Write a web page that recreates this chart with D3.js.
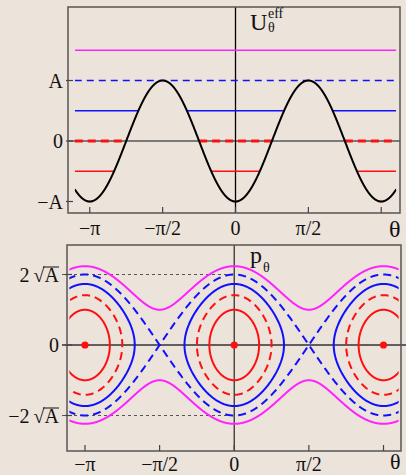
<!DOCTYPE html>
<html>
<head>
<meta charset="utf-8">
<script src="https://cdn.jsdelivr.net/npm/d3@7"></script>
<style>
  html, body { margin: 0; padding: 0; background: #ece3db; }
  svg { display: block; }
  text { font-family: "Liberation Serif", "Times New Roman", serif; fill: #111; }
</style>
</head>
<body>
<svg id="chart" width="406" height="475"></svg>
<script>
// Pendulum-like potential U(θ) = −A cos 2θ and its phase portrait.
const A = 1;
const thetaTicks = [-Math.PI, -Math.PI / 2, 0, Math.PI / 2, Math.PI];
const thetaTickLabels = ["−π", "−π/2", "0", "π/2", ""];   // the axis name sits where "π" would go
const uTicks = [A, 0, -A];
const uTickLabels = ["A", "0", "−A"];
const pTicks = [2 * Math.sqrt(A), 0, -2 * Math.sqrt(A)];
const pTickPrefix = ["2\u2009", "0", "−2\u2009"];      // labels "2 √A", "0", "−2 √A"
const pTickHasRoot = [true, false, true];

// Energy levels (units of A), their colours and dash styles
const energies = [1.5, 1, 0.5, 0, -0.5];
const energyColors = ["#ff22ff", "#1010ff", "#1010ff", "#ff1010", "#ff1010"];
const energyDashed = [false, true, false, true, false];

// Stable equilibria (potential minima)
const minima = [-Math.PI, 0, Math.PI];
const thetaSpan = [-3.465, 3.465];

const U = th => -A * Math.cos(2 * th);

const svg = d3.select("#chart");

// ---------------- upper panel: effective potential ----------------
const fTop = { left: 68, right: 400, top: 7, bottom: 213 };
const xT = d3.scaleLinear().domain([-3.611, 3.546]).range([fTop.left, fTop.right]);
const yT = d3.scaleLinear().domain([-1.19, 2.215]).range([fTop.bottom, fTop.top]);

svg.append("clipPath").attr("id", "clipTop").append("rect")
  .attr("x", xT(thetaSpan[0])).attr("y", fTop.top)
  .attr("width", xT(thetaSpan[1]) - xT(thetaSpan[0])).attr("height", fTop.bottom - fTop.top);

const gTop = svg.append("g");
// zero line and θ = 0 axis
gTop.append("line").attr("x1", fTop.left).attr("x2", fTop.right)
  .attr("y1", yT(0)).attr("y2", yT(0)).attr("stroke", "#7a7a7a").attr("stroke-width", 2);
gTop.append("line").attr("x1", xT(0)).attr("x2", xT(0))
  .attr("y1", fTop.top).attr("y2", fTop.bottom).attr("stroke", "#000").attr("stroke-width", 1.3);

const thetaSamples = d3.range(thetaSpan[0], thetaSpan[1] + 1e-9, 0.002);

// energy levels: drawn only where the motion is allowed (U ≤ E)
const gLevels = gTop.append("g").attr("clip-path", "url(#clipTop)");
energies.forEach((E, i) => {
  const isZero = E === 0;
  const line = d3.line()
    .defined(th => U(th) <= E * A + 1e-9)
    .x(th => xT(th)).y(() => yT(E * A));
  gLevels.append("path").attr("d", line(thetaSamples))
    .attr("fill", "none").attr("stroke", energyColors[i])
    .attr("stroke-width", isZero ? 3 : 1.4)
    .attr("stroke-dasharray", energyDashed[i] ? (isZero ? "8,5" : "7,5") : null);
});
// lowest level: the minima themselves
minima.forEach(m => {
  gLevels.append("line").attr("x1", xT(m) - 3).attr("x2", xT(m) + 3)
    .attr("y1", yT(-A)).attr("y2", yT(-A)).attr("stroke", "#ff1010").attr("stroke-width", 1.6);
});

// potential curve
gTop.append("path").attr("clip-path", "url(#clipTop)")
  .attr("d", d3.line().x(th => xT(th)).y(th => yT(U(th)))(thetaSamples))
  .attr("fill", "none").attr("stroke", "#000").attr("stroke-width", 2);

// frame, ticks and labels
gTop.append("rect").attr("x", fTop.left).attr("y", fTop.top)
  .attr("width", fTop.right - fTop.left).attr("height", fTop.bottom - fTop.top)
  .attr("fill", "none").attr("stroke", "#555").attr("stroke-width", 1.5);
thetaTicks.forEach((t, i) => {
  gTop.append("line").attr("x1", xT(t)).attr("x2", xT(t))
    .attr("y1", fTop.bottom).attr("y2", fTop.bottom - 6).attr("stroke", "#444").attr("stroke-width", 1.2);
  if (thetaTickLabels[i]) {
    gTop.append("text").attr("x", xT(t)).attr("y", 235).attr("text-anchor", "middle")
      .attr("font-size", 20).text(thetaTickLabels[i]);
  }
});
uTicks.forEach((v, i) => {
  gTop.append("line").attr("x1", fTop.left - 2).attr("x2", fTop.left + 5)
    .attr("y1", yT(v)).attr("y2", yT(v)).attr("stroke", "#444").attr("stroke-width", 1.2);
  gTop.append("text").attr("x", 63).attr("y", yT(v) + 7).attr("text-anchor", "end")
    .attr("font-size", 20).text(uTickLabels[i]);
});
gTop.append("text").attr("x", 389).attr("y", 237).attr("font-size", 24).text("θ");
gTop.append("text").attr("x", 250).attr("y", 30).attr("font-size", 24).text("U");
gTop.append("text").attr("x", 268).attr("y", 18).attr("font-size", 14).text("eff");
gTop.append("text").attr("x", 268).attr("y", 32).attr("font-size", 14).text("θ");

// ---------------- lower panel: phase portrait ----------------
const fBot = { left: 67, right: 401, top: 245, bottom: 451 };
const xB = d3.scaleLinear().domain([-3.52, 3.51]).range([fBot.left, fBot.right]);
const yB = d3.scaleLinear().domain([-3.007, 2.837]).range([fBot.bottom, fBot.top]);

svg.append("clipPath").attr("id", "clipBot").append("rect")
  .attr("x", xB(-3.47)).attr("y", fBot.top)
  .attr("width", xB(3.46) - xB(-3.47)).attr("height", fBot.bottom - fBot.top);

const gBot = svg.append("g");
// separatrix amplitude guides ±2√A
[pTicks[0], pTicks[2]].forEach(v => {
  gBot.append("line").attr("x1", 62).attr("x2", xB(0))
    .attr("y1", yB(v)).attr("y2", yB(v)).attr("stroke", "#555").attr("stroke-width", 1.1)
    .attr("stroke-dasharray", "3,3");
});
gBot.append("line").attr("x1", 62).attr("x2", 406)
  .attr("y1", yB(0)).attr("y2", yB(0)).attr("stroke", "#333").attr("stroke-width", 1.3);
gBot.append("line").attr("x1", xB(0)).attr("x2", xB(0))
  .attr("y1", fBot.top).attr("y2", fBot.bottom).attr("stroke", "#333").attr("stroke-width", 1.3);

const gCurves = gBot.append("g").attr("clip-path", "url(#clipBot)");
const pOf = (th, E) => Math.sqrt(Math.max(0, 2 * (E * A - U(th))));
const lineB = d3.line().x(d => xB(d[0])).y(d => yB(d[1]));
const thetaB = d3.range(-3.5, 3.5 + 1e-9, 0.004);

energies.forEach((E, i) => {
  const style = sel => sel.attr("fill", "none").attr("stroke", energyColors[i])
    .attr("stroke-width", 2).attr("stroke-dasharray", energyDashed[i] ? "8,5" : null);
  if (E >= 1) {
    // rotating (open) trajectories
    [1, -1].forEach(s => {
      gCurves.append("path").attr("d", lineB(thetaB.map(th => [th, s * pOf(th, E)]))).call(style);
    });
  } else {
    // librating (closed) trajectories around each minimum
    const half = Math.acos(-E) / 2;
    const ts = d3.range(0, 2 * Math.PI + 1e-9, 0.01);
    minima.forEach(m => {
      const pts = ts.map(t => {
        const th = m - half * Math.cos(t);
        return [th, Math.sign(Math.sin(t)) * pOf(th, E)];
      });
      gCurves.append("path").attr("d", lineB(pts) + "Z").call(style);
    });
  }
});
minima.forEach(m => {
  gBot.append("circle").attr("cx", xB(m)).attr("cy", yB(0)).attr("r", 3.6).attr("fill", "#ff1010");
});

gBot.append("rect").attr("x", fBot.left).attr("y", fBot.top)
  .attr("width", fBot.right - fBot.left).attr("height", fBot.bottom - fBot.top)
  .attr("fill", "none").attr("stroke", "#555").attr("stroke-width", 1.5);
thetaTicks.forEach((t, i) => {
  gBot.append("line").attr("x1", xB(t)).attr("x2", xB(t))
    .attr("y1", fBot.bottom).attr("y2", fBot.bottom - 6).attr("stroke", "#444").attr("stroke-width", 1.2);
  if (thetaTickLabels[i]) {
    gBot.append("text").attr("x", xB(t)).attr("y", 471).attr("text-anchor", "middle")
      .attr("font-size", 20).text(thetaTickLabels[i]);
  }
});
pTicks.forEach((v, i) => {
  gBot.append("line").attr("x1", fBot.left - 2).attr("x2", fBot.left + 5)
    .attr("y1", yB(v)).attr("y2", yB(v)).attr("stroke", "#444").attr("stroke-width", 1.2);
  const label = gBot.append("text").attr("x", 59).attr("y", yB(v) + 7)
    .attr("text-anchor", "end").attr("font-size", 20)
    .text(pTickPrefix[i] + (pTickHasRoot[i] ? "√A" : ""));
  if (pTickHasRoot[i]) {
    // overbar of the square root spanning the radicand
    const n = label.text().length;
    const root = label.node().getExtentOfChar(n - 2);
    const rad = label.node().getExtentOfChar(n - 1);
    gBot.append("line")
      .attr("x1", root.x + root.width - 1.5).attr("x2", rad.x + rad.width)
      .attr("y1", yB(v) - 7.5).attr("y2", yB(v) - 7.5)
      .attr("stroke", "#111").attr("stroke-width", 1);
  }
});
gBot.append("text").attr("x", 390).attr("y", 469).attr("font-size", 22).text("θ");
gBot.append("text").attr("x", 250).attr("y", 263).attr("font-size", 24).text("p");
gBot.append("text").attr("x", 263).attr("y", 272).attr("font-size", 14).text("θ");
</script>
</body>
</html>
